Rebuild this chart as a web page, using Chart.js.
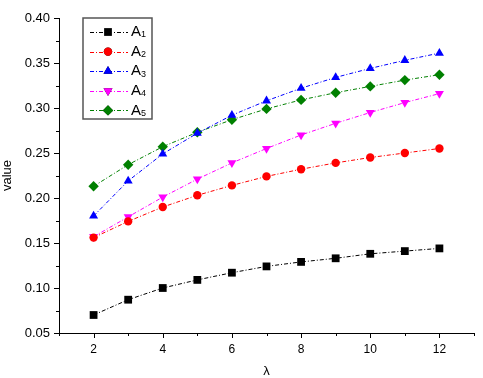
<!DOCTYPE html>
<html>
<head>
<meta charset="utf-8">
<script src="https://cdn.jsdelivr.net/npm/chart.js@4.4.0/dist/chart.umd.min.js"></script>
<style>
  html, body { margin: 0; padding: 0; background: #fff; }
  #wrap { width: 483px; height: 378px; }
</style>
</head>
<body>
<div id="wrap"><canvas id="chart"></canvas></div>
<script>
// lambda values on the x axis
const lambdas = [2, 3, 4, 5, 6, 7, 8, 9, 10, 11, 12];

const a1 = [0.070, 0.087, 0.100, 0.109, 0.117, 0.124, 0.129, 0.133, 0.138, 0.141, 0.144];
const a2 = [0.156, 0.174, 0.190, 0.203, 0.214, 0.224, 0.232, 0.239, 0.245, 0.250, 0.255];
const a3 = [0.180, 0.219, 0.249, 0.272, 0.292, 0.308, 0.322, 0.334, 0.344, 0.353, 0.361];
const a4 = [0.157, 0.179, 0.201, 0.221, 0.239, 0.255, 0.270, 0.283, 0.295, 0.306, 0.316];
const a5 = [0.213, 0.237, 0.257, 0.273, 0.287, 0.299, 0.309, 0.317, 0.324, 0.331, 0.337];

const seriesNames = ['A1', 'A2', 'A3', 'A4', 'A5'];
const seriesValues = [a1, a2, a3, a4, a5];
const colors = ['#000000', '#ff0000', '#0000ff', '#ff00ff', '#008000'];
const markers = ['rect', 'circle', 'triangle', 'triangle', 'rectRot'];
const markerRot = [0, 0, 0, 180, 0];
const markerSize = [5.5, 4.2, 5.2, 5.2, 5.2];

const dash = [4, 2, 1, 2];
const FONT = 'Liberation Sans, Arial, sans-serif';

const datasets = seriesNames.map((name, i) => ({
  label: name,
  data: lambdas.map((x, j) => ({ x: x, y: seriesValues[i][j] })),
  borderColor: colors[i],
  backgroundColor: colors[i],
  borderWidth: 1,
  borderDash: dash,
  pointStyle: markers[i],
  rotation: markerRot[i],
  pointRadius: markerSize[i],
  pointBorderWidth: 0,
  pointBackgroundColor: colors[i],
  pointBorderColor: colors[i]
}));

// outward tick marks, major longer than minor
const tickMarks = {
  id: 'tickMarks',
  afterDraw(chart) {
    const ctx = chart.ctx;
    const xs = chart.scales.x, ys = chart.scales.y;
    ctx.save();
    ctx.strokeStyle = '#000';
    ctx.lineWidth = 1;
    ctx.beginPath();
    xs.ticks.forEach(t => {
      const px = Math.round(xs.getPixelForValue(t.value)) + 0.5;
      const len = (t.value % 2 === 0) ? 5 : 3;
      ctx.moveTo(px, xs.top);
      ctx.lineTo(px, xs.top + len);
    });
    ys.ticks.forEach(t => {
      const py = Math.round(ys.getPixelForValue(t.value)) + 0.5;
      const major = Math.round(t.value * 1000) % 50 === 0;
      const len = major ? 5 : 3;
      ctx.moveTo(ys.right, py);
      ctx.lineTo(ys.right - len, py);
    });
    ctx.stroke();
    ctx.restore();
  }
};

// legend box with dash-dot sample lines and subscript labels
const boxLegend = {
  id: 'boxLegend',
  afterDraw(chart) {
    const ctx = chart.ctx;
    const x0 = 83, y0 = 18, w = 69, h = 101;
    ctx.save();
    ctx.fillStyle = '#fff';
    ctx.fillRect(x0, y0, w, h);
    ctx.strokeStyle = '#555';
    ctx.lineWidth = 1.5;
    ctx.strokeRect(x0, y0, w, h);
    chart.data.datasets.forEach((ds, i) => {
      const cy = 32 + i * 19.6;
      ctx.strokeStyle = ds.borderColor;
      ctx.lineWidth = 1;
      ctx.setLineDash(dash);
      ctx.beginPath();
      ctx.moveTo(90, Math.round(cy) + 0.5);
      ctx.lineTo(128, Math.round(cy) + 0.5);
      ctx.stroke();
      ctx.setLineDash([]);
      Chart.helpers.drawPoint(ctx, {
        pointStyle: ds.pointStyle,
        rotation: ds.rotation,
        radius: ds.pointRadius,
        borderWidth: 0
      }, 108, cy);
      ctx.fillStyle = ds.borderColor;
      ctx.fill();
      ctx.fillStyle = '#000';
      ctx.textBaseline = 'middle';
      ctx.textAlign = 'left';
      ctx.font = '15px ' + FONT;
      ctx.fillText(ds.label.charAt(0), 131, cy);
      ctx.font = '9px ' + FONT;
      ctx.fillText(ds.label.slice(1), 141, cy + 3);
    });
    ctx.restore();
  }
};

new Chart(document.getElementById('chart'), {
  type: 'line',
  data: { datasets: datasets },
  plugins: [tickMarks, boxLegend],
  options: {
    responsive: true,
    maintainAspectRatio: false,
    animation: false,
    layout: { padding: { top: 18, right: 2, left: 0, bottom: 0 } },
    plugins: {
      legend: { display: false },
      tooltip: { enabled: false }
    },
    scales: {
      x: {
        type: 'linear',
        min: 1,
        max: 13,
        afterFit(s) { s.height = 45; },
        grid: { display: false, drawTicks: false, tickLength: 0 },
        border: { display: true, color: '#000', width: 1 },
        ticks: {
          stepSize: 1,
          padding: 9,
          color: '#000',
          font: { family: FONT, size: 12 },
          maxRotation: 0,
          autoSkip: false,
          callback: v => (v % 2 === 0 && v >= 2 && v <= 12) ? String(v) : ''
        },
        title: {
          display: true,
          text: 'λ',
          color: '#000',
          font: { family: FONT, size: 13, lineHeight: 1 },
          padding: { top: 0, bottom: 0 }
        }
      },
      y: {
        min: 0.05,
        max: 0.40,
        afterFit(s) { s.width = 59; },
        grid: { display: false, drawTicks: false, tickLength: 0 },
        border: { display: true, color: '#000', width: 1 },
        ticks: {
          stepSize: 0.025,
          padding: 9,
          color: '#000',
          font: { family: FONT, size: 13 },
          autoSkip: false,
          callback: v => (Math.round(v * 1000) % 50 === 0) ? v.toFixed(2) : ''
        },
        title: {
          display: true,
          text: 'value',
          color: '#000',
          font: { family: FONT, size: 13 },
          padding: { top: 0, bottom: 0 }
        }
      }
    }
  }
});
</script>
</body>
</html>
